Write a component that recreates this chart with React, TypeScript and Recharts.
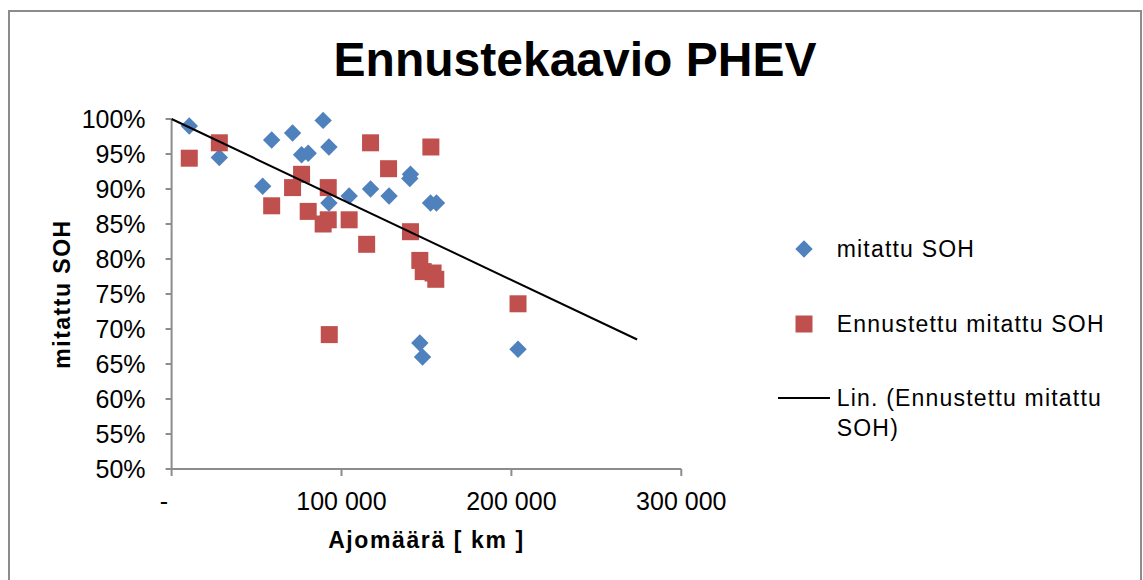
import React from 'react';
import { ScatterChart, Scatter, XAxis, YAxis, Legend, Label } from 'recharts';

const FONT = "'Liberation Sans', Arial, sans-serif";

const title = 'Ennustekaavio PHEV';
const xTitle = 'Ajomäärä [ km ]';
const yTitle = 'mitattu SOH';

const seriesNames = ['mitattu SOH', 'Ennustettu mitattu SOH', 'Lin. (Ennustettu mitattu SOH)'];

// mitattu SOH (blue diamonds)
const measuredKm = [10400, 28100, 53600, 58900, 71200, 76500, 80400, 89200, 92600, 92600, 104500, 117100, 128000, 140600, 140200, 152400, 155900, 146100, 147700, 203900];
const measuredSoh = [99.0, 94.5, 90.4, 97.0, 98.0, 94.9, 95.1, 99.8, 96.0, 88.0, 89.0, 90.0, 89.0, 92.1, 91.5, 88.0, 88.0, 68.0, 66.0, 67.1];

// Ennustettu mitattu SOH (red squares)
const predictedKm = [10400, 28100, 58900, 71200, 76500, 80400, 92200, 92200, 89200, 104500, 117100, 152600, 127700, 140600, 114800, 146100, 148100, 155500, 153900, 203900, 92800];
const predictedSoh = [94.4, 96.6, 87.6, 90.2, 92.1, 86.8, 90.2, 85.6, 85.0, 85.6, 96.6, 96.0, 92.9, 83.9, 82.1, 79.8, 78.2, 77.1, 78.0, 73.6, 69.2];

// linear trend end points
const trendKm = [0, 274000];
const trendSoh = [100.0, 68.5];

const xTicks = [0, 100000, 200000, 300000];
const yTicks = [50, 55, 60, 65, 70, 75, 80, 85, 90, 95, 100];

const measured = measuredKm.map((km, i) => ({ km, soh: measuredSoh[i] }));
const predicted = predictedKm.map((km, i) => ({ km, soh: predictedSoh[i] }));
const trend = trendKm.map((km, i) => ({ km, soh: trendSoh[i] }));

const BLUE = '#4F81BD';
const RED = '#C0504D';
const AXIS = '#8c8c8c';

const fmtKm = (v: number) => (v === 0 ? '-' : v.toLocaleString('en-US').replace(/,/g, ' '));

const Diamond = (props: any) => {
  const { cx, cy } = props;
  if (cx == null || cy == null) return <g />;
  const r = 8.7;
  return <polygon points={`${cx},${cy - r} ${cx + r},${cy} ${cx},${cy + r} ${cx - r},${cy}`} fill={BLUE} />;
};

const Square = (props: any) => {
  const { cx, cy } = props;
  if (cx == null || cy == null) return <g />;
  const h = 8.5;
  return <rect x={cx - h} y={cy - h} width={h * 2} height={h * 2} fill={RED} />;
};

const XTick = (props: any) => {
  const { x, y, payload } = props;
  const v = payload.value;
  return (
    <text x={x + (v === 0 ? -7.6 : 0)} y={y} dy="0.71em" textAnchor="middle" fill="#000" fontSize={25} fontFamily={FONT}>
      {fmtKm(v)}
    </text>
  );
};

const rowCenters = [17, 92, 166];

const LegendBox = (props: any) => {
  const items = props.payload || [];
  return (
    <div style={{ position: 'relative', width: 360, height: 230, fontFamily: FONT }}>
      {items.map((it: any, i: number) => {
        const idx = seriesNames.indexOf(it.value);
        const c = rowCenters[idx >= 0 ? idx : i];
        let icon;
        if (it.type === 'diamond') {
          icon = <polygon points="28,6.3 36.7,15 28,23.7 19.3,15" fill={BLUE} />;
        } else if (it.type === 'square') {
          icon = <rect x={19.5} y={6.5} width={17} height={17} fill={RED} />;
        } else {
          icon = <line x1={2} y1={15} x2={54} y2={15} stroke="#000" strokeWidth={2} />;
        }
        return (
          <div key={i} style={{ position: 'absolute', left: 0, top: c - 15 }}>
            <svg width={60} height={30} style={{ position: 'absolute', left: 0, top: 0 }}>
              {icon}
            </svg>
            <div
              style={{
                position: 'absolute',
                left: 60.7,
                top: 0,
                width: 290,
                fontSize: 23,
                lineHeight: '30px',
                letterSpacing: 1.2,
                color: '#000',
              }}
            >
              {it.value}
            </div>
          </div>
        );
      })}
    </div>
  );
};

export default function App() {
  return (
    <>
      <style>{'body{margin:0;overflow:hidden;background:#fff}'}</style>
      <div
        style={{
          position: 'absolute',
          left: 8,
          top: 10,
          width: 1130,
          height: 600,
          border: `2px solid ${AXIS}`,
          background: '#fff',
        }}
      >
        <div
          style={{
            position: 'absolute',
            left: 0,
            top: 24,
            width: 1130,
            textAlign: 'center',
            fontFamily: FONT,
            fontWeight: 'bold',
            fontSize: 48,
            lineHeight: '48px',
            color: '#000',
            zIndex: 2,
          }}
        >
          {title}
        </div>
        <ScatterChart width={1130} height={580} margin={{ top: 107, right: 458.7, bottom: 63, left: 0 }}>
          <XAxis
            type="number"
            dataKey="km"
            domain={[0, 300000]}
            ticks={xTicks}
            interval={0}
            height={60}
            stroke={AXIS}
            strokeWidth={2}
            tickSize={7}
            tickMargin={16}
            tick={<XTick />}
          >
            <Label
              content={(p: any) => {
                const vb = p.viewBox;
                return (
                  <text
                    x={vb.x + vb.width / 2}
                    y={vb.y + 71}
                    textAnchor="middle"
                    dominantBaseline="central"
                    fontFamily={FONT}
                    fontWeight="bold"
                    fontSize={23}
                    letterSpacing={1.6}
                    fill="#000"
                  >
                    {xTitle}
                  </text>
                );
              }}
            />
          </XAxis>
          <YAxis
            type="number"
            dataKey="soh"
            domain={[50, 100]}
            ticks={yTicks}
            interval={0}
            width={161.6}
            stroke={AXIS}
            strokeWidth={2}
            tickSize={6}
            tickMargin={20}
            tickFormatter={(v: number) => `${v}%`}
            tick={{ fill: '#000', fontSize: 25, fontFamily: FONT }}
          >
            <Label
              content={() => (
                <text
                  x={52}
                  y={282}
                  transform="rotate(-90 52 282)"
                  textAnchor="middle"
                  dominantBaseline="central"
                  fontFamily={FONT}
                  fontWeight="bold"
                  fontSize={23}
                  letterSpacing={1.5}
                  fill="#000"
                >
                  {yTitle}
                </text>
              )}
            />
          </YAxis>
          <Legend
            layout="horizontal"
            align="center"
            verticalAlign="middle"
            content={<LegendBox />}
            wrapperStyle={{ left: 766, top: 220, width: 360, height: 230 }}
          />
          <Scatter name={seriesNames[0]} data={measured} shape={<Diamond />} legendType="diamond" fill={BLUE} isAnimationActive={false} />
          <Scatter name={seriesNames[1]} data={predicted} shape={<Square />} legendType="square" fill={RED} isAnimationActive={false} />
          <Scatter
            name={seriesNames[2]}
            data={trend}
            shape={() => <g />}
            line={{ stroke: '#000', strokeWidth: 2 }}
            legendType="line"
            fill="#000"
            isAnimationActive={false}
          />
        </ScatterChart>
      </div>
    </>
  );
}
